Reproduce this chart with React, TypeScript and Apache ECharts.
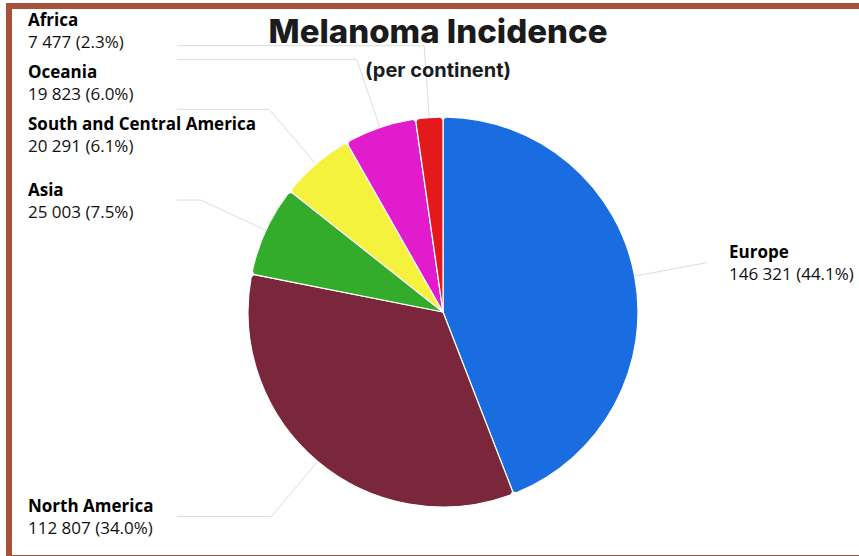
import React, { useEffect, useRef } from "react";
import * as echarts from "echarts";

const continents = ["Europe", "North America", "Asia", "South and Central America", "Oceania", "Africa"];
const incidence = [146321, 112807, 25003, 20291, 19823, 7477];
const sliceColors = ["#1a6de0", "#7a263b", "#33ac2c", "#f4f23c", "#e11ccc", "#e3191b"];
const titleText = "Melanoma Incidence";
const subtitleText = "(per continent)";

const CX = 443;
const CY = 312;
const R = 195;
const LINE1 = 72;
const LABEL_H = 52;

function fmt(v: number): string {
  return String(v).replace(/\B(?=(\d{3})+(?!\d))/g, " ");
}

// label centres: start at the bend of each label line, then spread apart
function labelCentres(values: number[]): number[] {
  const total = values.reduce((a, b) => a + b, 0);
  let acc = 0;
  const info = values.map((v, i) => {
    const mid = ((acc + v / 2) / total) * Math.PI * 2;
    acc += v;
    return { i, left: Math.sin(mid) < 0, y: CY - (R + LINE1) * Math.cos(mid) };
  });
  const out: number[] = new Array(values.length).fill(0);
  [true, false].forEach((side) => {
    const items = info.filter((d) => d.left === side).sort((a, b) => a.y - b.y);
    const c = items.map((d) => d.y);
    for (let it = 0; it < 400; it++) {
      for (let k = 0; k < c.length - 1; k++) {
        const gap = c[k + 1] - c[k];
        if (gap < LABEL_H) {
          const d = (LABEL_H - gap) / 2;
          c[k] -= d;
          c[k + 1] += d;
        }
      }
      for (let k = 0; k < c.length; k++) c[k] = Math.min(Math.max(c[k], 30), 530);
    }
    items.forEach((d, k) => (out[d.i] = c[k]));
  });
  return out;
}

export default function App() {
  const ref = useRef<HTMLDivElement>(null);
  useEffect(() => {
    if (!ref.current) return;
    const chart = echarts.init(ref.current, null, { renderer: "svg" });
    const total = incidence.reduce((a, b) => a + b, 0);
    const centres = labelCentres(incidence);
    chart.setOption({
      animation: false,
      backgroundColor: "transparent",
      title: [
        {
          text: titleText,
          left: 433,
          top: 9,
          textAlign: "center",
          textStyle: { fontFamily: "Inter", fontWeight: 800, fontSize: 33, color: "#1b1b1b" },
        },
        {
          text: subtitleText,
          left: 433,
          top: 55,
          textAlign: "center",
          textStyle: { fontFamily: "Inter", fontWeight: 700, fontSize: 20, color: "#1b1b1b" },
        },
      ],
      series: [
        {
          type: "pie",
          center: [CX, CY],
          radius: R,
          startAngle: 90,
          clockwise: true,
          avoidLabelOverlap: true,
          itemStyle: { borderColor: "#ffffff", borderWidth: 1.2, borderRadius: 4 },
          data: continents.map((name, i) => ({
            name,
            value: incidence[i],
            itemStyle: { color: sliceColors[i] },
          })),
          label: {
            show: true,
            position: "outside",
            alignTo: "edge",
            edgeDistance: 28,
            overflow: "none",
            formatter: (p: any) =>
              `{n|${p.name}}\n{v|${fmt(p.value)} (${((p.value / total) * 100).toFixed(1)}%)}`,
            rich: {
              n: { fontFamily: "Open Sans", fontWeight: "bold", fontSize: 17, lineHeight: 22, color: "#000", align: "left" },
              v: { fontFamily: "Open Sans", fontSize: 17, lineHeight: 22, color: "#111", align: "left" },
            },
          },
          labelLine: {
            show: true,
            length: LINE1,
            length2: 20,
            lineStyle: { color: "#dcdcdc", width: 1 },
          },
          labelLayout: (params: any) => {
            const pts = params.labelLinePoints;
            if (!pts) return {};
            const p0 = pts[0];
            const dx = p0[0] - CX;
            const dy = p0[1] - CY;
            const len = Math.sqrt(dx * dx + dy * dy) || 1;
            const ux = dx / len;
            const uy = dy / len;
            const p1 = [p0[0] + ux * LINE1, p0[1] + uy * LINE1];
            const isLeft = ux < 0;
            const endX = isLeft ? CX - (R + 71) : CX + (R + 69);
            return {
              x: isLeft ? 28 : endX + 22,
              y: centres[params.dataIndex],
              align: "left",
              verticalAlign: "middle",
              labelLinePoints: [p0, p1, [endX, p1[1]]],
            };
          },
        },
      ],
    });
    return () => chart.dispose();
  }, []);

  return (
    <div style={{ position: "fixed", left: 0, top: 0, width: 859, height: 556, overflow: "hidden", background: "#fff" }}>
      <div
        style={{
          position: "absolute",
          left: 6,
          top: 3,
          width: 900,
          height: 558,
          border: "6px solid #a8513a",
          boxSizing: "border-box",
        }}
      />
      <div ref={ref} style={{ position: "absolute", left: 0, top: 0, width: 859, height: 556 }} />
    </div>
  );
}
